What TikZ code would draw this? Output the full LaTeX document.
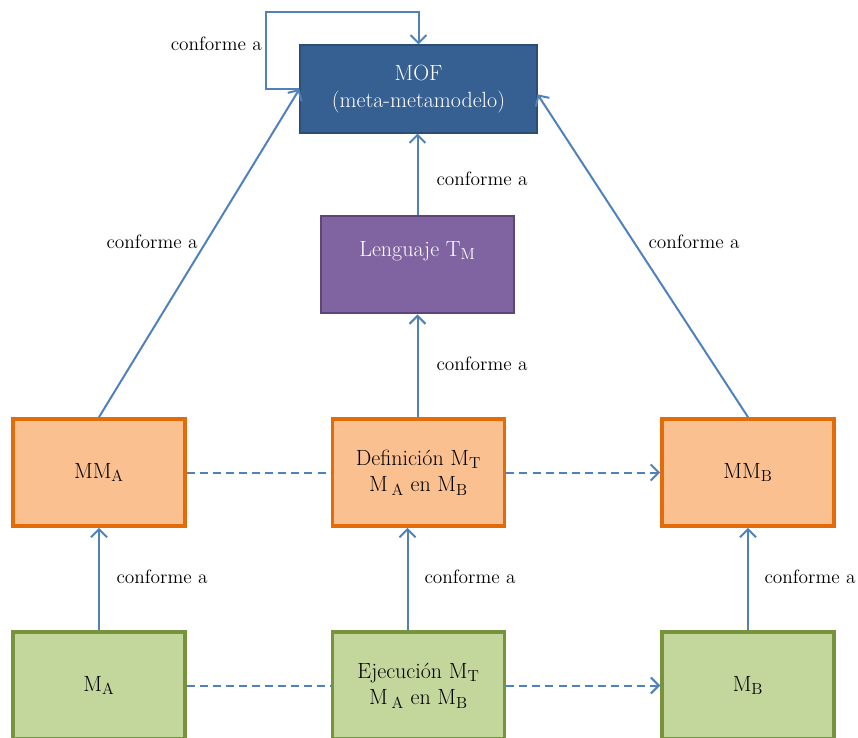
\documentclass[tikz,border=0pt]{standalone}
\usetikzlibrary{arrows.meta}
\definecolor{mofblue}{HTML}{376092}
\definecolor{mofline}{HTML}{2C4D75}
\definecolor{lilac}{HTML}{8064A2}
\definecolor{lilacline}{HTML}{5C4776}
\definecolor{peach}{HTML}{FAC090}
\definecolor{peachline}{HTML}{E36C09}
\definecolor{sage}{HTML}{C3D69B}
\definecolor{sageline}{HTML}{77933C}
\definecolor{link}{HTML}{4F81BD}
\tikzset{
  box/.style={rectangle, align=center, font=\fontsize{16.5}{20}\selectfont,
    inner sep=2pt},
  mofbox/.style={box, fill=mofblue, draw=mofline, line width=0.8pt, text=white,
    minimum width=177.75pt, minimum height=66pt},
  langbox/.style={box, fill=lilac, draw=lilacline, line width=2.2pt, text=white,
    minimum width=144.75pt, minimum height=72.75pt},
  metabox/.style={box, fill=peach, draw=peachline, line width=2.8pt,
    minimum width=129pt, minimum height=80.25pt},
  modelbox/.style={box, fill=sage, draw=sageline, line width=2.6pt,
    minimum width=129pt, minimum height=80.25pt},
  tip/.style={-{Straight Barb[length=6pt,width=12pt,line width=1.5pt]}},
  conn/.style={draw=link, line width=1.5pt, tip},
  dashlink/.style={draw=link, line width=1.5pt, dash pattern=on 6pt off 3.8pt},
  lbl/.style={font=\fontsize{14.5}{17}\selectfont, inner sep=0pt}
}
\begin{document}
\begin{tikzpicture}[x=0.75pt, y=-0.75pt]
\useasboundingbox (0,0) rectangle (858,738);

% nodes
\node[mofbox] (mof) at (418.5,89) {MOF\\(meta-metamodelo)};
\node[langbox] (lang) at (417.5,264.5) {Lenguaje T$_{\mathrm{M}}$\\[4pt]};
\node[metabox] (mma) at (99,472.5) {MM$_{\mathrm{A}}$};
\node[metabox] (def) at (418.5,472.5) {Definición M$_{\mathrm{T}}$\\M\,$_{\mathrm{A}}$ en M$_{\mathrm{B}}$};
\node[metabox] (mmb) at (748,472.5) {MM$_{\mathrm{B}}$};
\node[modelbox] (ma) at (99,685.5) {M$_{\mathrm{A}}$};
\node[modelbox] (ejec) at (418.5,685.5) {Ejecución M$_{\mathrm{T}}$\\M\,$_{\mathrm{A}}$ en M$_{\mathrm{B}}$};
\node[modelbox] (mb) at (748,685.5) {M$_{\mathrm{B}}$};

% self loop on MOF
\coordinate (loopcorner) at (266,12);
\draw[conn] (mof.west) -| (loopcorner) -| (mof.north);
\node[lbl, anchor=east] (l0) at (262,44) {conforme a};

% conformance links
\draw[conn] (lang.north) -- (lang.north |- mof.south);
\node[lbl] (l1) at (482,179) {conforme a};
\draw[conn] (def.north -| lang.south) -- (lang.south);
\node[lbl] (l2) at (482,364) {conforme a};
\draw[conn] (mma.north) -- (mof.west);
\node[lbl] (l3) at (152,242) {conforme a};
\draw[conn] (mmb.north) -- ([yshift=-4pt]mof.east);
\node[lbl] (l4) at (694,242) {conforme a};
\draw[conn] (ma.north) -- (mma.south);
\node[lbl] (l5) at (162,577) {conforme a};
\draw[conn] ([xshift=-8.25pt]ejec.north) -- ([xshift=-8.25pt]def.south);
\node[lbl] (l6) at (470,577) {conforme a};
\draw[conn] (mb.north) -- (mmb.south);
\node[lbl] (l7) at (810,577) {conforme a};

% transformation links
\draw[dashlink] (mma.east) -- (def.west);
\draw[dashlink, tip] (def.east) -- (mmb.west);
\draw[dashlink] (ma.east) -- (ejec.west);
\draw[dashlink, tip] (ejec.east) -- (mb.west);
\end{tikzpicture}
\end{document}
